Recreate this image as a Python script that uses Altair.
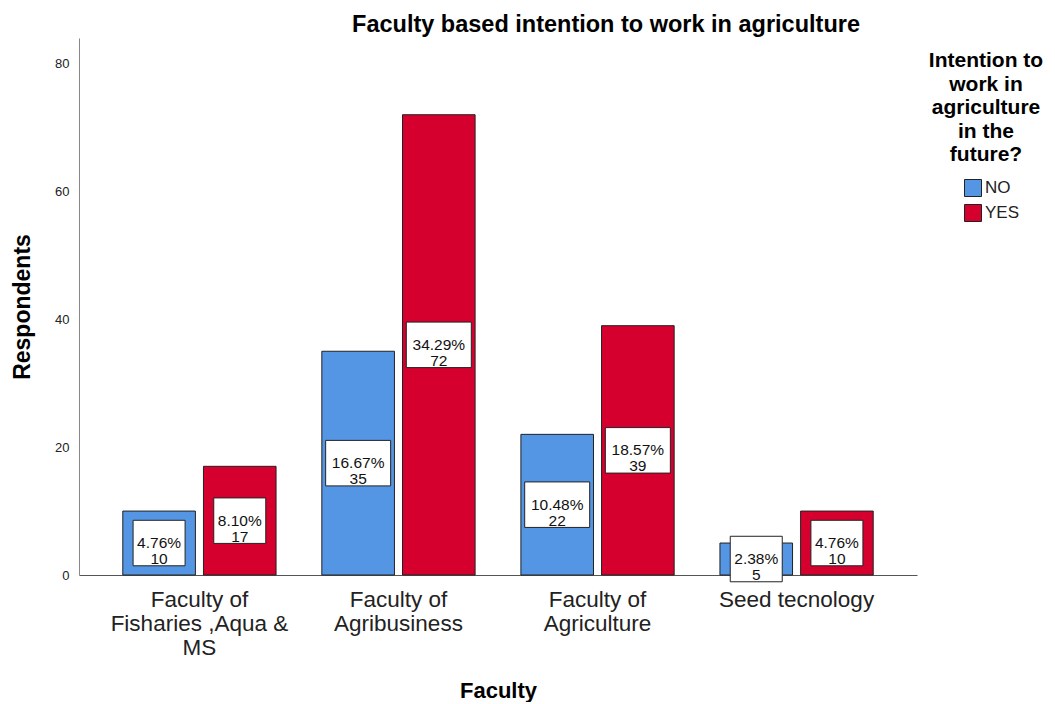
import altair as alt
import pandas as pd

faculties = [
    "Faculty of\nFisharies ,Aqua &\nMS",
    "Faculty of\nAgribusiness",
    "Faculty of\nAgriculture",
    "Seed tecnology",
]
answers = ["NO", "YES"]
no_counts = [10, 35, 22, 5]
yes_counts = [17, 72, 39, 10]
no_pct = ["4.76%", "16.67%", "10.48%", "2.38%"]
yes_pct = ["8.10%", "34.29%", "18.57%", "4.76%"]
colors = ["#5596E4", "#D5002E"]

rows = []
for i, f in enumerate(faculties):
    rows.append({"Faculty": f, "Answer": "NO", "Respondents": no_counts[i],
                 "pct": no_pct[i], "label": f"{no_pct[i]}\n{no_counts[i]}"})
    rows.append({"Faculty": f, "Answer": "YES", "Respondents": yes_counts[i],
                 "pct": yes_pct[i], "label": f"{yes_pct[i]}\n{yes_counts[i]}"})
df = pd.DataFrame(rows)

FONT = "Liberation Sans"

x_enc = alt.X(
    "Faculty:N",
    sort=faculties,
    scale=alt.Scale(paddingInner=0.23, paddingOuter=0.22),
    axis=alt.Axis(
        title="Faculty",
        labelAngle=0,
        labelExpr="split(datum.label, '\\n')",
        labelFontSize=22.5,
        labelLineHeight=24,
        labelPadding=13,
        labelColor="#222",
        labelFont=FONT,
        ticks=False,
        domainColor="#555",
        titleFontSize=22,
        titleFont=FONT,
        titleFontWeight="bold",
        titlePadding=22,
        titleColor="#000",
    ),
)
xoff = alt.XOffset("Answer:N", sort=answers, scale=alt.Scale(paddingInner=0.1))
y_enc = alt.Y(
    "Respondents:Q",
    scale=alt.Scale(domain=[0, 84], nice=False),
    axis=alt.Axis(
        title="Respondents",
        values=[0, 20, 40, 60, 80],
        grid=False,
        ticks=False,
        labelFontSize=13,
        labelFont=FONT,
        labelColor="#222",
        labelPadding=10,
        domainColor="#888",
        titleFontSize=23,
        titleFont=FONT,
        titleFontWeight="bold",
        titlePadding=20,
        titleColor="#000",
    ),
)

bars = alt.Chart(df).mark_bar(stroke="#222", strokeWidth=1).encode(
    x=x_enc,
    xOffset=xoff,
    y=y_enc,
    color=alt.Color(
        "Answer:N",
        sort=answers,
        scale=alt.Scale(domain=answers, range=colors),
        legend=alt.Legend(
            title=["Intention to", "work in", "agriculture", "in the", "future?"],
            titleFontSize=21,
            titleFont=FONT,
            titleFontWeight="bold",
            titleColor="#000",
            titleAlign="center",
            titleAnchor="middle",
            titleLineHeight=23.5,
            titlePadding=14,
            labelFontSize=17,
            labelFont=FONT,
            labelColor="#222",
            labelOffset=3,
            symbolType="square",
            symbolSize=289,
            symbolStrokeColor="#222",
            symbolStrokeWidth=1,
            symbolOpacity=1,
            symbolOffset=11,
            rowPadding=3,
            orient="none",
            legendX=850,
            legendY=12,
        ),
    ),
)

mid = alt.Chart(df).transform_calculate(half="datum.Respondents / 2")
enc_common = dict(
    x=alt.X("Faculty:N", sort=faculties),
    xOffset=xoff,
    y=alt.Y("half:Q"),
)

box_style = dict(filled=True, fill="white", stroke="#222", strokeWidth=1, opacity=1)

boxes_short = mid.transform_filter("length(datum.pct) <= 5").mark_point(
    shape="M-1,-0.875L1,-0.875L1,0.875L-1,0.875Z", size=2704, **box_style
).encode(**enc_common)

boxes_long = mid.transform_filter("length(datum.pct) > 5").mark_point(
    shape="M-1,-0.7L1,-0.7L1,0.7L-1,0.7Z", size=4225, **box_style
).encode(**enc_common)

texts = mid.mark_text(
    lineBreak="\n",
    fontSize=15.5,
    font=FONT,
    lineHeight=16,
    baseline="middle",
    color="#111",
).encode(text="label:N", **enc_common)

chart = (
    alt.layer(bars, boxes_short, boxes_long, texts)
    .properties(
        width=838,
        height=537,
        padding={"left": 3, "top": 4, "right": 0, "bottom": 0},
        title=alt.TitleParams(
            "Faculty based intention to work in agriculture",
            fontSize=23.5,
            font=FONT,
            fontWeight="bold",
            color="#000",
            anchor="middle",
            dx=108,
            offset=2,
        ),
    )
    .configure_view(stroke=None)
)

chart.save("out.html", embed_options={"renderer": "svg", "actions": False})
